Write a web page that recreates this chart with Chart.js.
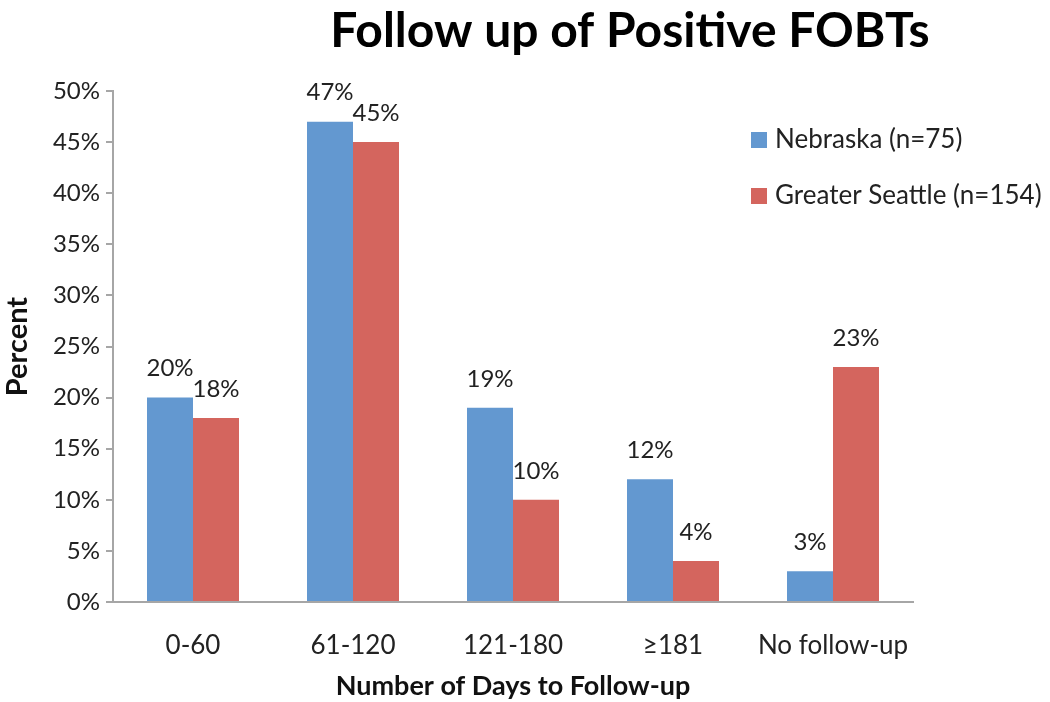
<!DOCTYPE html>
<html>
<head>
<meta charset="utf-8">
<script src="https://cdn.jsdelivr.net/npm/chart.js@4.4.0/dist/chart.umd.min.js"></script>
<style>
  html, body { margin: 0; padding: 0; background: #fff; }
  #wrap { width: 1050px; height: 702px; }
</style>
</head>
<body>
<div id="wrap"><canvas id="grafico" width="1050" height="702"></canvas></div>
<script>
// dados do gráfico
const categorias = ['0-60', '61-120', '121-180', '≥181', 'No follow-up'];
const nebraska = [20, 47, 19, 12, 3];
const seattle = [18, 45, 10, 4, 23];
const rotulosSeries = ['Nebraska (n=75)', 'Greater Seattle (n=154)'];
const ticksY = [0, 5, 10, 15, 20, 25, 30, 35, 40, 45, 50];
const titulo = 'Follow up of Positive FOBTs';

const fonte = "Lato, 'Open Sans', sans-serif";
const corAzul = '#6398d0';
const corVermelho = '#d4655e';

// título centralizado como no original (deslocado à direita)
const tituloPlugin = {
    id: 'tituloPlugin',
    afterDraw(chart) {
        const ctx = chart.ctx;
        ctx.save();
        ctx.font = 'bold 48px ' + fonte;
        ctx.fillStyle = '#000';
        ctx.textAlign = 'center';
        ctx.textBaseline = 'middle';
        ctx.fillText(titulo, 630, 32);
        ctx.restore();
    }
};

// rótulos de valor acima das barras
const rotulosValores = {
    id: 'rotulosValores',
    afterDatasetsDraw(chart) {
        const ctx = chart.ctx;
        ctx.save();
        ctx.font = '24px ' + fonte;
        ctx.fillStyle = '#222';
        ctx.textAlign = 'center';
        ctx.textBaseline = 'middle';
        chart.data.datasets.forEach(function (ds, i) {
            chart.getDatasetMeta(i).data.forEach(function (bar, j) {
                ctx.fillText(ds.data[j] + '%', bar.x, bar.y - 29);
            });
        });
        ctx.restore();
    }
};

// legenda desenhada dentro da área do gráfico
const legendaInterna = {
    id: 'legendaInterna',
    afterDraw(chart) {
        const ctx = chart.ctx;
        ctx.save();
        ctx.font = '26px ' + fonte;
        ctx.textBaseline = 'middle';
        chart.data.datasets.forEach(function (ds, i) {
            const y = 140 + i * 56;
            ctx.fillStyle = ds.backgroundColor;
            ctx.fillRect(751, y - 8, 16, 16);
            ctx.fillStyle = '#222';
            ctx.fillText(ds.label, 775, y);
        });
        ctx.restore();
    }
};

new Chart(document.getElementById('grafico'), {
    type: 'bar',
    data: {
        labels: categorias,
        datasets: [
            { label: rotulosSeries[0], data: nebraska, backgroundColor: corAzul },
            { label: rotulosSeries[1], data: seattle, backgroundColor: corVermelho }
        ]
    },
    options: {
        responsive: false,
        animation: false,
        layout: { padding: { top: 91, right: 137, bottom: 0, left: 0 } },
        datasets: { bar: { categoryPercentage: 0.575, barPercentage: 1.0 } },
        plugins: {
            legend: { display: false },
            tooltip: { enabled: false },
            title: { display: false }
        },
        scales: {
            x: {
                grid: { display: false },
                border: { display: true, color: '#a6a6a6', width: 2 },
                ticks: { color: '#222', font: { family: fonte, size: 26 }, padding: 20 },
                title: {
                    display: true,
                    text: 'Number of Days to Follow-up',
                    color: '#111',
                    font: { family: fonte, size: 27, weight: 'bold' },
                    padding: { top: 8, bottom: 0 }
                },
                afterFit: function (scale) { scale.height = 100; }
            },
            y: {
                min: 0,
                max: 50,
                afterBuildTicks: function (scale) {
                    scale.ticks = ticksY.map(function (v) { return { value: v }; });
                },
                grid: { display: true, drawOnChartArea: false, drawTicks: true, tickLength: 7, color: '#a6a6a6', lineWidth: 2 },
                border: { display: true, color: '#a6a6a6', width: 2 },
                ticks: {
                    color: '#222',
                    font: { family: fonte, size: 24 },
                    padding: 6,
                    callback: function (v) { return v + '%'; }
                },
                title: {
                    display: true,
                    text: 'Percent',
                    color: '#111',
                    font: { family: fonte, size: 29, weight: 'bold' },
                    padding: { top: 0, bottom: 0 }
                },
                afterFit: function (scale) { scale.width = 113; }
            }
        }
    },
    plugins: [rotulosValores, legendaInterna, tituloPlugin]
});
</script>
</body>
</html>
